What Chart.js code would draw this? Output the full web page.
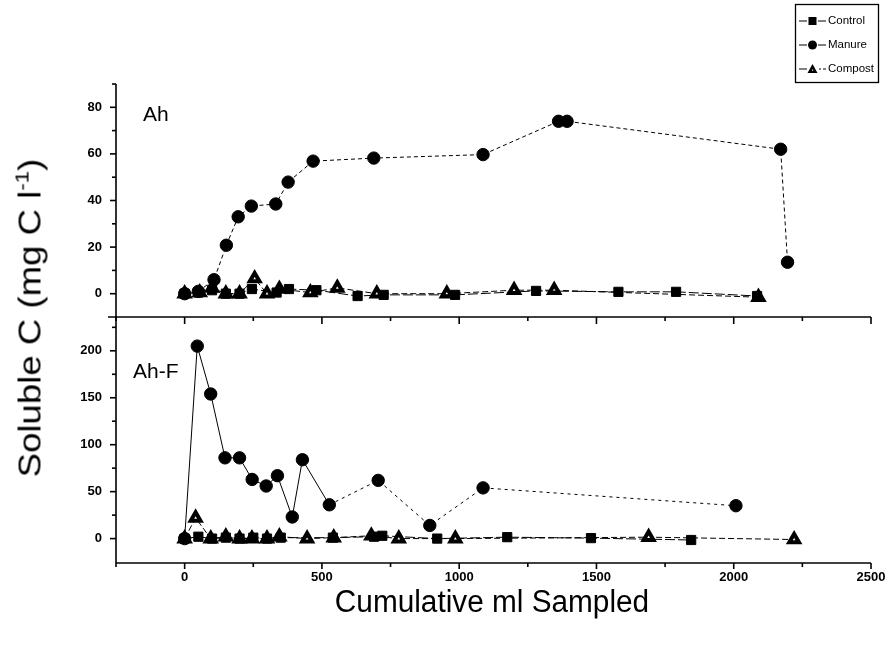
<!DOCTYPE html>
<html><head><meta charset="utf-8">
<script src="https://cdn.jsdelivr.net/npm/chart.js@4.4.1/dist/chart.umd.min.js"></script>
<style>
html,body{margin:0;padding:0;background:#fff;width:887px;height:645px;overflow:hidden;}
#wrap{position:relative;width:887px;height:645px;overflow:hidden;}
#c1{position:absolute;left:0;top:0;}
#c2{position:absolute;left:0;top:295px;}
.title{position:absolute;font-family:'Liberation Sans',Arial,sans-serif;white-space:nowrap;color:#000;line-height:1;}
#ytitle{left:30px;top:318px;font-size:31px;transform:translate(-50%,-50%) rotate(-90deg) scaleX(1.18);}
#ytitle sup{font-size:19px;vertical-align:12px;line-height:0;}
#xtitle{left:492px;top:601px;font-size:31px;transform:translate(-50%,-50%) scaleX(0.96);}
</style></head><body>
<div id="wrap">
<canvas id="c1" width="887" height="339"></canvas>
<canvas id="c2" width="893" height="350"></canvas>
<div class="title" id="ytitle">Soluble C (mg C l<sup>-1</sup>)</div>
<div class="title" id="xtitle">Cumulative ml Sampled</div>
</div>
<script>
// ---------- axis ticks ----------
const xLabelTicks = [0, 500, 1000, 1500, 2000, 2500];
const xMinorTicks = [-250, 250, 750, 1250, 1750, 2250];
const topYLabelTicks = [0, 20, 40, 60, 80];
const topYMinorTicks = [10, 30, 50, 70, 90];
const botYLabelTicks = [0, 50, 100, 150, 200];
const botYMinorTicks = [25, 75, 125, 175, 225];
const seriesNames = ['Control', 'Manure', 'Compost'];
const panelNames = ['Ah', 'Ah-F'];

// ---------- Ah (top panel) ----------
const ahControlX = [0, 50, 100, 150, 200, 245, 335, 380, 480, 630, 725, 985, 1280, 1580, 1790, 2085];
const ahControlY = [0, 0.5, 1.5, 0, 0, 2, 0.5, 2, 1.5, -1, -0.5, -0.5, 1.2, 0.8, 0.8, -1];
const ahManureX = [0, 50, 107, 152, 195, 243, 332, 377, 468, 689, 1087, 1362, 1393, 2171, 2196];
const ahManureY = [0, 1, 6, 20.8, 33, 37.6, 38.5, 47.9, 56.9, 58.2, 59.7, 74, 74, 62, 13.5];
const ahCompostX = [0, 55, 100, 150, 200, 255, 300, 345, 458, 556, 700, 955, 1200, 1346, 2090];
const ahCompostY = [0, 0.5, 2.5, 0, 0, 6.5, 0, 2, 0.5, 2.5, 0, 0, 1.5, 1.5, -1.5];

// ---------- Ah-F (bottom panel) ----------
const ahfControlX = [0, 50, 100, 150, 200, 250, 300, 350, 540, 690, 720, 920, 1175, 1480, 1845];
const ahfControlY = [0, 2, 0, 1, 0, 1, 0, 1, 1, 2, 3, 0, 1.5, 0.5, -1.5];
const ahfManureX = [0, 46, 95, 147, 200, 246, 297, 338, 392, 429, 527, 705, 893, 1087, 2008];
const ahfManureY = [0, 205, 154, 86, 86, 63, 56, 67, 23, 84, 36, 62, 14, 54, 35];
const ahfCompostX = [0, 40, 95, 150, 200, 245, 300, 345, 446, 543, 680, 780, 986, 1690, 2220];
const ahfCompostY = [0, 22, 0, 2, 0, 0, 0, 2, 0, 1, 3, 0, 0, 1.5, -1];

const FONT = "'Liberation Sans', Arial, sans-serif";
const pts = (xs, ys) => xs.map((x, i) => ({x: x, y: ys[i]}));

function styleControl(d){ return Object.assign({label: seriesNames[0], pointStyle:'rect', pointRadius:6.5, pointBackgroundColor:'#000', pointBorderColor:'#000', pointBorderWidth:1, borderColor:'#000', borderWidth:1, borderDash:[10,3], fill:false, clip:false}, d); }
function styleManure(d){ return Object.assign({label: seriesNames[1], pointStyle:'circle', pointRadius:6.2, pointBackgroundColor:'#000', pointBorderColor:'#000', pointBorderWidth:1, borderColor:'#000', borderWidth:1, borderDash:[4,3], fill:false, clip:false}, d); }
function styleCompost(d){ return Object.assign({label: seriesNames[2], pointStyle:'triangle', pointRadius:5.6, pointBackgroundColor:'#fff', pointBorderColor:'#000', pointBorderWidth:4, borderColor:'#000', borderWidth:1, borderDash:[6,3], fill:false, clip:false}, d); }

function seg(ctx, x1, y1, x2, y2){ ctx.beginPath(); ctx.moveTo(x1, y1); ctx.lineTo(x2, y2); ctx.stroke(); }

const framePlugin = {
  id: 'frame',
  afterDraw(chart, args, o){
    const ctx = chart.ctx, a = chart.chartArea, xs = chart.scales.x, ys = chart.scales.y;
    ctx.save();
    ctx.strokeStyle = '#000'; ctx.lineWidth = 1.6; ctx.setLineDash([]);
    seg(ctx, a.left, a.top, a.left, a.bottom);
    o.yMajor.forEach(v => { const p = ys.getPixelForValue(v); seg(ctx, a.left - 6, p, a.left, p); });
    o.yMinor.forEach(v => { const p = ys.getPixelForValue(v); seg(ctx, a.left - 4, p, a.left, p); });
    if (o.bottomAxis) {
      seg(ctx, a.left, a.bottom, a.right, a.bottom);
      xLabelTicks.forEach(v => { const p = xs.getPixelForValue(v); seg(ctx, p, a.bottom, p, a.bottom + 6); });
      xMinorTicks.forEach(v => { const p = xs.getPixelForValue(v); seg(ctx, p, a.bottom, p, a.bottom + 4); });
    }
    if (o.topAxis) {
      seg(ctx, a.left - 8, a.top, a.right, a.top);
      xLabelTicks.forEach(v => { const p = xs.getPixelForValue(v); seg(ctx, p, a.top, p, a.top + 7); });
      xMinorTicks.forEach(v => { const p = xs.getPixelForValue(v); seg(ctx, p, a.top, p, a.top + 4); });
    }
    ctx.fillStyle = '#000'; ctx.font = '21px ' + FONT; ctx.textBaseline = 'middle'; ctx.textAlign = 'left';
    ctx.fillText(o.panelLabel, o.panelLabelX, a.top + o.panelLabelDy);
    ctx.restore();
  }
};

function legendMarker(ctx, style, x, y){
  ctx.save();
  ctx.fillStyle = '#000'; ctx.strokeStyle = '#000'; ctx.lineWidth = 1;
  if (style === 'rect') { ctx.fillRect(x - 4, y - 4, 8, 8); }
  else if (style === 'circle') { ctx.beginPath(); ctx.arc(x, y, 4.5, 0, Math.PI * 2); ctx.fill(); }
  else { ctx.beginPath(); ctx.moveTo(x, y - 5); ctx.lineTo(x + 5, y + 4); ctx.lineTo(x - 5, y + 4); ctx.closePath(); ctx.fill();
         ctx.fillStyle = '#fff'; ctx.fillRect(x - 0.5, y + 0.5, 1.2, 1.2); }
  ctx.restore();
}

const legendPlugin = {
  id: 'boxLegend',
  afterDraw(chart, args, o){
    if (!o.show) return;
    const ctx = chart.ctx;
    ctx.save();
    ctx.strokeStyle = '#000'; ctx.lineWidth = 1.3; ctx.setLineDash([]);
    ctx.strokeRect(795.5, 4.5, 83, 78);
    const rows = [21, 45, 69];
    const dsets = chart.data.datasets;
    rows.forEach((y, i) => {
      const d = dsets[i];
      ctx.lineWidth = 1; ctx.strokeStyle = '#000';
      seg(ctx, 799, y, 807, y);
      if (i === 2) { seg(ctx, 819, y, 821, y); seg(ctx, 823, y, 826, y); } else seg(ctx, 818, y, 826, y);
      legendMarker(ctx, d.pointStyle, 812.5, y);
      ctx.fillStyle = '#000'; ctx.font = '11.5px ' + FONT; ctx.textBaseline = 'middle'; ctx.textAlign = 'left';
      ctx.fillText(d.label, 828, y);
    });
    ctx.restore();
  }
};

const tickFont = {family: FONT, size: 13, weight: 'bold'};
const plainNum = v => String(v);

const chartTop = new Chart(document.getElementById('c1'), {
  type: 'line',
  data: {datasets: [
    styleControl({data: pts(ahControlX, ahControlY)}),
    styleManure({data: pts(ahManureX, ahManureY)}),
    styleCompost({data: pts(ahCompostX, ahCompostY)})
  ]},
  options: {
    responsive: false, animation: false, devicePixelRatio: 1,
    layout: {autoPadding: false, padding: {left: 0, right: 16, top: 84, bottom: 22}},
    plugins: {
      legend: {display: false}, tooltip: {enabled: false},
      frame: {yMajor: topYLabelTicks, yMinor: topYMinorTicks, bottomAxis: false, topAxis: false, panelLabel: panelNames[0], panelLabelX: 143, panelLabelDy: 31},
      boxLegend: {show: true}
    },
    scales: {
      x: {type: 'linear', min: -250, max: 2500, display: false},
      y: {type: 'linear', min: -10, max: 90,
          afterBuildTicks: s => { s.ticks = topYLabelTicks.map(v => ({value: v})); },
          afterFit: s => { s.width = 116; },
          grid: {display: false, drawTicks: false}, border: {display: false},
          ticks: {font: tickFont, color: '#000', padding: 14, callback: plainNum}}
    }
  },
  plugins: [framePlugin, legendPlugin]
});

const chartBottom = new Chart(document.getElementById('c2'), {
  type: 'line',
  data: {datasets: [
    styleControl({data: pts(ahfControlX, ahfControlY)}),
    styleManure({data: pts(ahfManureX, ahfManureY), segment: {borderDash: c => c.p0.parsed.x < 450 ? [] : [3, 4]}}),
    styleCompost({data: pts(ahfCompostX, ahfCompostY)})
  ]},
  options: {
    responsive: false, animation: false, devicePixelRatio: 1,
    layout: {autoPadding: false, padding: {left: 0, right: 22, top: 22, bottom: 0}},
    plugins: {
      legend: {display: false}, tooltip: {enabled: false},
      frame: {yMajor: botYLabelTicks, yMinor: botYMinorTicks, bottomAxis: true, topAxis: true, panelLabel: panelNames[1], panelLabelX: 133, panelLabelDy: 55},
      boxLegend: {show: false}
    },
    scales: {
      x: {type: 'linear', min: -250, max: 2500,
          afterBuildTicks: s => { s.ticks = xLabelTicks.map(v => ({value: v})); },
          afterFit: s => { s.height = 82; },
          grid: {display: false, drawTicks: false}, border: {display: false},
          ticks: {font: tickFont, color: '#000', padding: 7, maxRotation: 0, autoSkip: false, callback: plainNum}},
      y: {type: 'linear', min: -26, max: 236,
          afterBuildTicks: s => { s.ticks = botYLabelTicks.map(v => ({value: v})); },
          afterFit: s => { s.width = 116; },
          grid: {display: false, drawTicks: false}, border: {display: false},
          ticks: {font: tickFont, color: '#000', padding: 14, callback: plainNum}}
    }
  },
  plugins: [framePlugin]
});
</script>
</body></html>
